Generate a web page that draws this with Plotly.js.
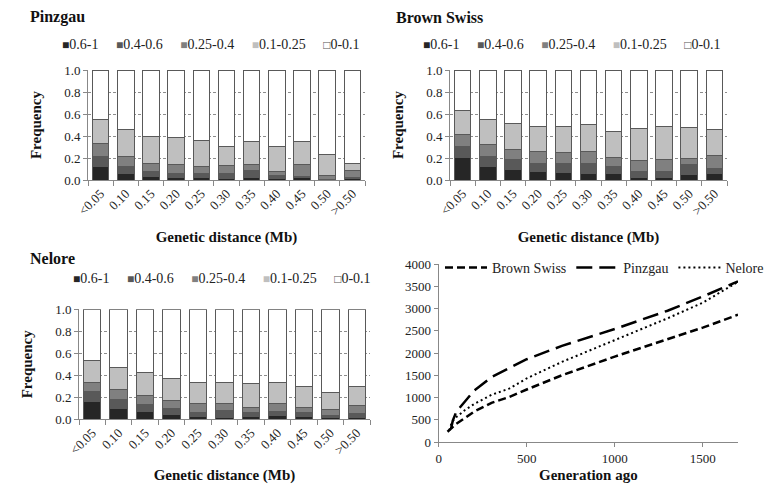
<!DOCTYPE html>
<html>
<head>
<meta charset="utf-8">
<script src="https://cdn.plot.ly/plotly-3.0.1.min.js"></script>
<style>html,body{margin:0;padding:0;background:#fff}#chart{width:774px;height:484px}</style>
</head>
<body>
<div id="chart"></div>
<script>
// ---------- DATA ----------
const distanceBins = ['<0.05','0.10','0.15','0.20','0.25','0.30','0.35','0.40','0.45','0.50','>0.50'];
const ldClasses = ['0.6-1','0.4-0.6','0.25-0.4','0.1-0.25','0-0.1'];
const classColors = ['#262626','#595959','#808080','#bfbfbf','#ffffff'];

// frequencies per LD class (rows follow ldClasses), per distance bin
const pinzgauFreq = [
  [0.127,0.060,0.033,0.024,0.024,0.010,0.027,0.018,0.027,0.000,0.010],
  [0.091,0.067,0.042,0.039,0.033,0.047,0.055,0.024,0.005,0.005,0.015],
  [0.112,0.091,0.075,0.076,0.067,0.073,0.060,0.033,0.113,0.040,0.065],
  [0.223,0.242,0.250,0.251,0.239,0.175,0.205,0.230,0.205,0.185,0.064],
  [0.447,0.540,0.600,0.610,0.637,0.695,0.653,0.695,0.650,0.770,0.846]
];
const brownSwissFreq = [
  [0.205,0.124,0.094,0.076,0.069,0.057,0.063,0.027,0.027,0.048,0.060],
  [0.097,0.094,0.090,0.072,0.079,0.091,0.061,0.046,0.049,0.094,0.046],
  [0.115,0.105,0.094,0.112,0.100,0.112,0.084,0.102,0.108,0.051,0.121],
  [0.217,0.230,0.236,0.223,0.235,0.245,0.236,0.296,0.302,0.284,0.232],
  [0.366,0.447,0.486,0.517,0.517,0.495,0.556,0.529,0.514,0.523,0.541]
];
const neloreFreq = [
  [0.161,0.097,0.073,0.045,0.027,0.018,0.024,0.036,0.024,0.012,0.020],
  [0.091,0.085,0.066,0.049,0.034,0.061,0.037,0.037,0.037,0.024,0.033],
  [0.084,0.085,0.079,0.079,0.087,0.066,0.048,0.072,0.048,0.049,0.068],
  [0.200,0.200,0.209,0.200,0.188,0.191,0.212,0.191,0.191,0.160,0.179],
  [0.464,0.533,0.573,0.627,0.664,0.664,0.679,0.664,0.700,0.755,0.700]
];

// effective population size vs generations ago
const brownSwissGen = [50,100,150,200,300,400,500,700,1000,1300,1500,1700];
const brownSwissNe  = [230,410,540,680,880,1010,1180,1500,1920,2300,2570,2860];
const pinzgauGen = [70,80,100,150,200,300,400,500,700,1000,1300,1500,1700];
const pinzgauNe  = [300,480,680,920,1150,1460,1660,1860,2160,2540,2950,3270,3610];
const neloreGen = [60,75,100,150,200,300,400,500,700,1000,1300,1500,1700];
const neloreNe  = [260,450,560,720,850,1060,1200,1430,1800,2290,2780,3130,3600];

// ---------- CHART ----------
const FONT = 'Liberation Serif, Times New Roman, serif';
const W = 774, H = 484;
const px = v => v / W;
const py = v => 1 - v / H;

const traces = [];
function addBars(freq, xa, ya) {
  ldClasses.forEach((cls, k) => {
    traces.push({
      type: 'bar', x: distanceBins, y: freq[k], name: cls,
      xaxis: xa, yaxis: ya, showlegend: false,
      marker: {color: classColors[k], line: {color: '#595959', width: 1}},
      hoverinfo: 'x+y+name'
    });
  });
}
addBars(pinzgauFreq, 'x', 'y');
addBars(brownSwissFreq, 'x2', 'y2');
addBars(neloreFreq, 'x3', 'y3');

traces.push({type:'scatter', mode:'lines', x: brownSwissGen, y: brownSwissNe, name:'Brown Swiss',
  xaxis:'x4', yaxis:'y4', line:{color:'#000', width:2.5, dash:'8px,4px'}});
traces.push({type:'scatter', mode:'lines', x: pinzgauGen, y: pinzgauNe, name:'Pinzgau',
  xaxis:'x4', yaxis:'y4', line:{color:'#000', width:2.5, dash:'16px,7px'}});
traces.push({type:'scatter', mode:'lines', x: neloreGen, y: neloreNe, name:'Nelore',
  xaxis:'x4', yaxis:'y4', line:{color:'#000', width:2, dash:'2px,3px'}});

const tickFont = {family: FONT, size: 13, color: '#222'};
const titleFont = {family: FONT, size: 15, color: '#111', weight: 'bold'};

function barX(domain, anchor) {
  return {domain: domain, anchor: anchor, type: 'category', tickangle: -45,
    tickfont: tickFont, showline: true, linecolor: '#888', linewidth: 1,
    ticks: 'outside', tickson: 'boundaries', ticklen: 5, tickcolor: '#888',
    showgrid: false, fixedrange: true,
    title: {text: 'Genetic distance (Mb)', font: titleFont, standoff: 14}};
}
function barY(domain, anchor) {
  return {domain: domain, anchor: anchor, range: [0, 1], tickvals: [0,0.2,0.4,0.6,0.8,1.0],
    tickformat: '.1f', tickfont: tickFont, showline: true, linecolor: '#888', linewidth: 1,
    ticks: 'outside', ticklen: 4, tickcolor: '#888', zeroline: false,
    showgrid: true, gridcolor: '#8c8c8c', griddash: '3px,2px', gridwidth: 1,
    title: {text: 'Frequency', font: titleFont, standoff: 18}};
}

function legendText() {
  return ldClasses.map((cls, k) => {
    const sym = k === 4
      ? '<span style="color:#555555;font-size:12px">□</span>'
      : '<span style="color:' + classColors[k] + ';font-size:12px">■</span>';
    return sym + cls;
  }).join('&nbsp;&nbsp;&nbsp;&nbsp;&nbsp;');
}

const annFont = {family: FONT, size: 14, color: '#222'};
const panelTitle = {family: FONT, size: 16, color: '#111', weight: 'bold'};
const annotations = [
  {text: 'Pinzgau', x: px(28), y: py(17), xref:'paper', yref:'paper', xanchor:'left', yanchor:'middle', showarrow:false, font: panelTitle},
  {text: 'Brown Swiss', x: px(394), y: py(17), xref:'paper', yref:'paper', xanchor:'left', yanchor:'middle', showarrow:false, font: panelTitle},
  {text: 'Nelore', x: px(28), y: py(258), xref:'paper', yref:'paper', xanchor:'left', yanchor:'middle', showarrow:false, font: panelTitle},
  {text: legendText(), x: px(60), y: py(45), xref:'paper', yref:'paper', xanchor:'left', yanchor:'middle', showarrow:false, font: annFont},
  {text: legendText(), x: px(421), y: py(45), xref:'paper', yref:'paper', xanchor:'left', yanchor:'middle', showarrow:false, font: annFont},
  {text: legendText(), x: px(71), y: py(278), xref:'paper', yref:'paper', xanchor:'left', yanchor:'middle', showarrow:false, font: annFont}
];

const layout = {
  width: W, height: H,
  margin: {l: 0, r: 0, t: 0, b: 0},
  paper_bgcolor: '#fff', plot_bgcolor: '#fff',
  font: {family: FONT, color: '#222'},
  barmode: 'stack', bargap: 0.34,
  showlegend: true,
  legend: {orientation: 'h', traceorder: 'normal', x: px(440), y: py(268), xanchor: 'left', yanchor: 'middle',
    bgcolor: 'rgba(0,0,0,0)', font: {family: FONT, size: 14, color: '#222'},
    itemwidth: 42, tracegroupgap: 0},
  xaxis: barX([px(88), px(365)], 'y'),
  yaxis: barY([py(180), py(70)], 'x'),
  xaxis2: barX([px(450), px(727)], 'y2'),
  yaxis2: barY([py(180), py(70)], 'x2'),
  xaxis3: barX([px(79), px(370)], 'y3'),
  yaxis3: barY([py(419.3), py(309.3)], 'x3'),
  xaxis4: {domain: [px(438.7), px(738)], anchor: 'y4', range: [0, 1700], tickvals: [0,500,1000,1500],
    tickfont: tickFont, showline: true, linecolor: '#888', ticks: 'outside', ticklen: 4, tickcolor: '#888',
    showgrid: false, zeroline: false,
    title: {text: 'Generation ago', font: titleFont, standoff: 4}},
  yaxis4: {domain: [py(442), py(264)], anchor: 'x4', range: [0, 4000], dtick: 500,
    tickfont: tickFont, showline: true, linecolor: '#888', ticks: 'outside', ticklen: 4, tickcolor: '#888',
    showgrid: false, zeroline: false},
  annotations: annotations
};

Plotly.newPlot('chart', traces, layout, {displayModeBar: false, staticPlot: true});
</script>
</body>
</html>
